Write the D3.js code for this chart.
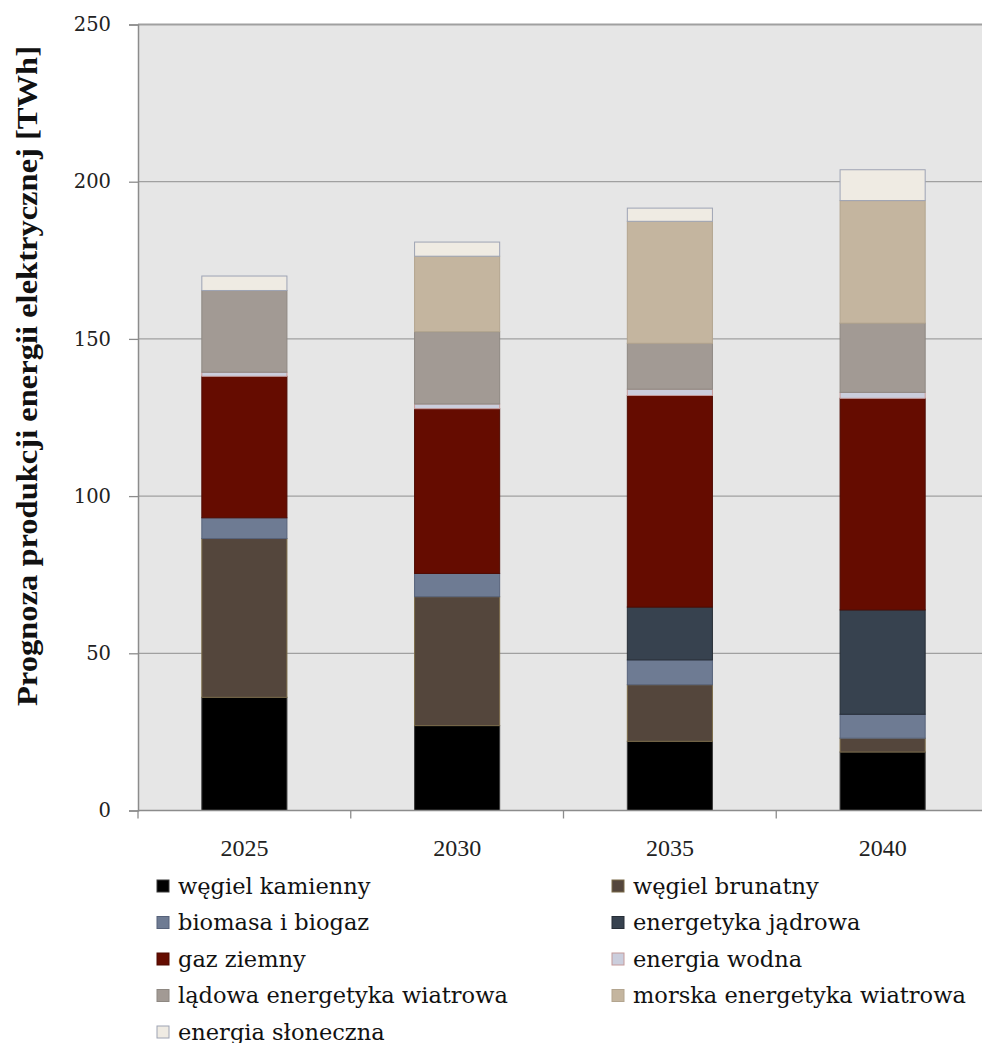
<!DOCTYPE html>
<html>
<head>
<meta charset="utf-8">
<script src="https://cdn.jsdelivr.net/npm/d3@7"></script>
<style>
  html, body { margin: 0; padding: 0; background: #ffffff; }
  svg { display: block; }
</style>
</head>
<body>
<div id="chart"></div>
<script>
// Prognoza produkcji energii elektrycznej w Polsce wg źródeł [TWh]
const years = ["2025", "2030", "2035", "2040"];

const seriesNames = [
  "węgiel kamienny",
  "węgiel brunatny",
  "biomasa i biogaz",
  "energetyka jądrowa",
  "gaz ziemny",
  "energia wodna",
  "lądowa energetyka wiatrowa",
  "morska energetyka wiatrowa",
  "energia słoneczna"
];

// values per year, in the order of `years`
const wegielKamienny   = [36.0, 27.0, 22.0, 18.6];
const wegielBrunatny   = [50.5, 41.0, 18.0, 4.4];
const biomasaBiogaz    = [6.6, 7.4, 7.9, 7.6];
const energetykaJadrowa = [0.0, 0.0, 16.8, 33.2];
const gazZiemny        = [45.0, 52.4, 67.3, 67.3];
const energiaWodna     = [1.3, 1.5, 2.0, 1.9];
const ladowaWiatrowa   = [26.0, 23.0, 14.6, 22.0];
const morskaWiatrowa   = [0.0, 24.0, 38.8, 39.0];
const energiaSloneczna = [4.6, 4.5, 4.2, 9.8];

const yTicks = [0, 50, 100, 150, 200, 250];

const seriesValues = [
  wegielKamienny, wegielBrunatny, biomasaBiogaz, energetykaJadrowa,
  gazZiemny, energiaWodna, ladowaWiatrowa, morskaWiatrowa, energiaSloneczna
];

const fills = ["#000000", "#54463c", "#6e7b93", "#37424f", "#650c00",
               "#cbcedd", "#a29a94", "#c4b59f", "#efebe3"];
const strokes = ["#3a3a3a", "#7a6a48", "#56627a", "#262d36", "#4f0a00",
                 "#c49a9a", "#8e8882", "#b3a58f", "#9ea4b4"];

const W = 982, H = 1043;
const margin = { left: 138, right: -7, top: 24.5, bottom: 232.5 };
const plotW = W - margin.left - margin.right;
const plotH = H - margin.top - margin.bottom;

const svg = d3.select("#chart").append("svg")
  .attr("width", W).attr("height", H);

const table = years.map((yr, i) => {
  const row = { year: yr };
  seriesNames.forEach((s, k) => { row[s] = seriesValues[k][i]; });
  return row;
});
const stacked = d3.stack().keys(seriesNames)(table);

const x = d3.scaleBand().domain(years).range([0, plotW]).paddingInner(0).paddingOuter(0);
const y = d3.scaleLinear().domain([0, 250]).range([plotH, 0]);

const g = svg.append("g").attr("transform", `translate(${margin.left},${margin.top})`);

// plot background
g.append("rect").attr("x", 0).attr("y", 0).attr("width", plotW).attr("height", plotH)
  .attr("fill", "#e6e6e6");

// horizontal gridlines
g.append("g").selectAll("line").data(yTicks.filter(t => t > 0)).join("line")
  .attr("x1", 0).attr("x2", plotW)
  .attr("y1", d => y(d)).attr("y2", d => y(d))
  .attr("stroke", "#a0a0a0").attr("stroke-width", d => d === 250 ? 2 : 1.3);

// stacked bars
const barW = x.bandwidth() * 0.4;
stacked.forEach((layer, k) => {
  g.append("g").selectAll("rect").data(layer.filter(d => d[1] - d[0] > 0)).join("rect")
    .attr("x", d => x(d.data.year) + (x.bandwidth() - barW) / 2)
    .attr("width", barW)
    .attr("y", d => y(d[1]))
    .attr("height", d => y(d[0]) - y(d[1]))
    .attr("fill", fills[k])
    .attr("stroke", strokes[k])
    .attr("stroke-width", 1);
});

// y axis
const yAxis = d3.axisLeft(y).tickValues(yTicks).tickSize(9).tickPadding(18)
  .tickFormat(d3.format("d"));
const ya = g.append("g").call(yAxis);
ya.select(".domain").attr("stroke", "#8c8c8c").attr("stroke-width", 1.5);
ya.selectAll(".tick line").attr("stroke", "#8c8c8c").attr("stroke-width", 1.3);
ya.selectAll(".tick text").attr("font-family", "DejaVu Serif").attr("font-size", 19.5)
  .attr("fill", "#222");

// x axis with ticks at the category boundaries
const xa = g.append("g").attr("transform", `translate(0,${plotH})`);
xa.append("line").attr("x1", 0).attr("x2", plotW).attr("y1", 0).attr("y2", 0)
  .attr("stroke", "#8c8c8c").attr("stroke-width", 1.5);
xa.selectAll("line.tk").data(years).join("line").attr("class", "tk")
  .attr("x1", d => x(d)).attr("x2", d => x(d)).attr("y1", 0).attr("y2", 8)
  .attr("stroke", "#8c8c8c").attr("stroke-width", 1.3);
xa.selectAll("text").data(years).join("text")
  .attr("x", d => x(d) + x.bandwidth() / 2).attr("y", 45)
  .attr("text-anchor", "middle")
  .attr("font-family", "Liberation Serif").attr("font-size", 24).attr("fill", "#222")
  .text(d => d);

// y axis title
svg.append("text")
  .attr("transform", `translate(37,376) rotate(-90)`)
  .attr("text-anchor", "middle")
  .attr("font-family", "Liberation Serif").attr("font-weight", "bold")
  .attr("font-size", 29).attr("fill", "#111")
  .attr("textLength", 660).attr("lengthAdjust", "spacingAndGlyphs")
  .text("Prognoza produkcji energii elektrycznej [TWh]");

// legend: two columns
const legend = svg.append("g");
const colX = [157, 612];
const rowY0 = 886, rowStep = 36.5;
const items = legend.selectAll("g").data(seriesNames).join("g")
  .attr("transform", (d, i) => `translate(${colX[i % 2]},${rowY0 + Math.floor(i / 2) * rowStep})`);
items.append("rect").attr("x", 0).attr("y", -6).attr("width", 12).attr("height", 12)
  .attr("fill", (d, i) => fills[i]).attr("stroke", (d, i) => strokes[i]).attr("stroke-width", 1);
items.append("text").attr("x", 21).attr("y", 7.5)
  .attr("font-family", "DejaVu Serif").attr("font-size", 22.5).attr("fill", "#111")
  .text(d => d);
</script>
</body>
</html>
